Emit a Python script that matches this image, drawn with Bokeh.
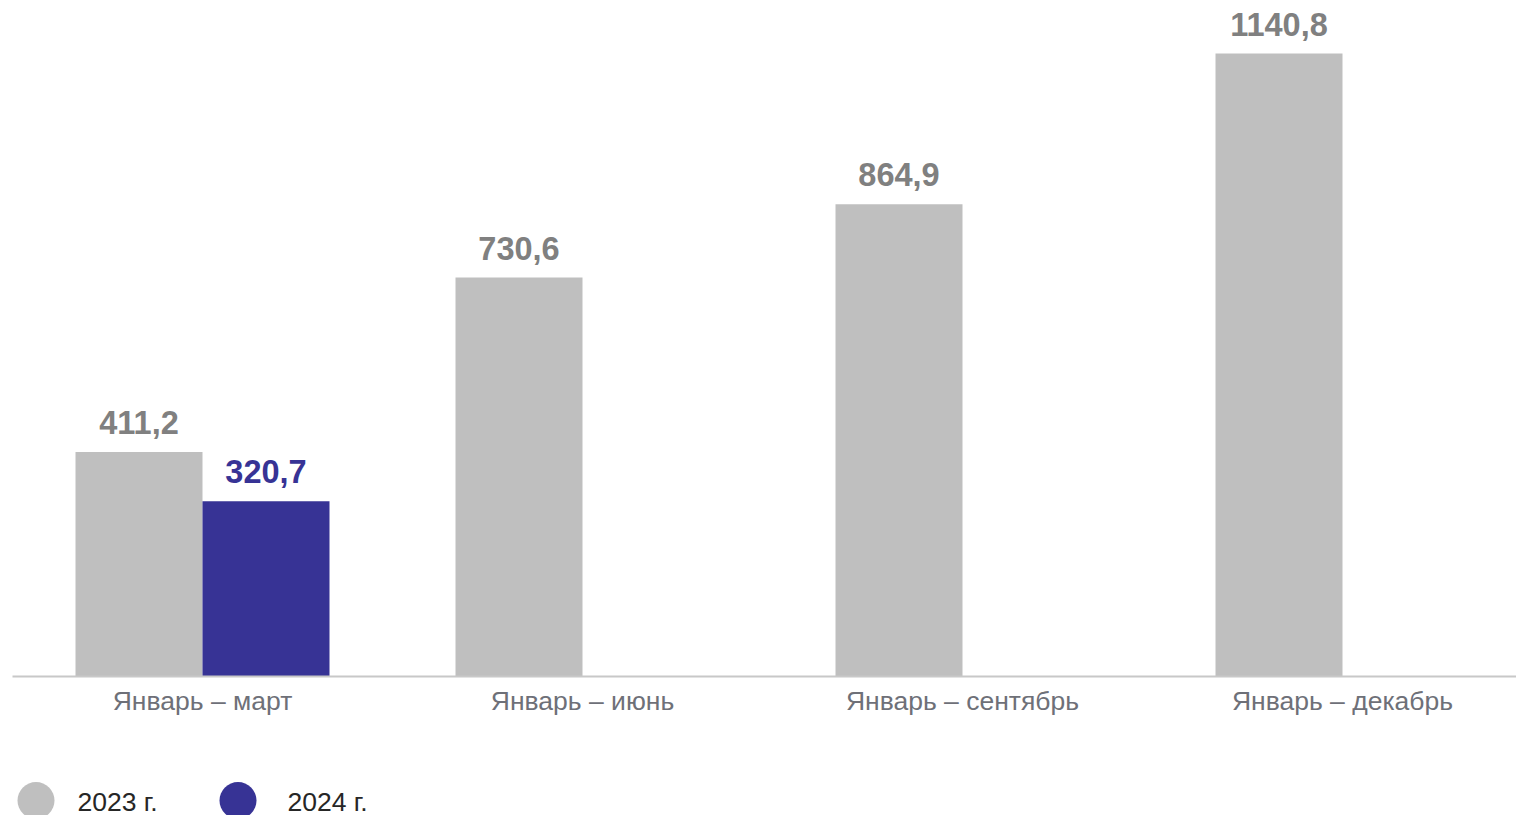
from bokeh.plotting import figure
from bokeh.models import ColumnDataSource, Range1d, FixedTicker, LabelSet
from bokeh.layouts import column
from bokeh.embed import file_html
from bokeh.resources import INLINE
from bokeh.core.properties import value

categories = ["Январь – март", "Январь – июнь", "Январь – сентябрь", "Январь – декабрь"]
series_names = ["2023 г.", "2024 г."]
values_2023 = [411.2, 730.6, 864.9, 1140.8]
values_2024 = [320.7, None, None, None]
colors = ["#bfbfbf", "#373395"]
label_colors = ["#808080", "#373395"]

FONT = "Liberation Sans"
W = 1516
px_per_unit = 380.0
bar_w = 127.0 / px_per_unit
frame_left = 12
frame_top = 8
y_scale = 623.0 / 1140.8
frame_h = 668
MAIN_H = frame_top + frame_h + 72

p = figure(width=W, height=MAIN_H, output_backend="svg", toolbar_location=None,
           x_range=Range1d(-0.5, -0.5 + (W - frame_left) / px_per_unit),
           y_range=Range1d(0, frame_h / y_scale), y_axis_location=None,
           min_border_left=frame_left, min_border_right=0, min_border_top=frame_top,
           min_border_bottom=72)
p.outline_line_color = None
p.grid.visible = False
p.background_fill_color = "white"
p.border_fill_color = "white"

for k, vals in enumerate([values_2023, values_2024]):
    offset = (-0.5 if k == 0 else 0.5) * bar_w
    xs, ys, labels = [], [], []
    for i, v in enumerate(vals):
        if v is None:
            continue
        xs.append(i + offset)
        ys.append(v)
        labels.append(f"{v:.1f}".replace(".", ","))
    src = ColumnDataSource(dict(x=xs, top=ys, label=labels))
    p.vbar(x="x", top="top", bottom=0, width=bar_w, source=src,
           fill_color=colors[k], line_color=None)
    p.add_layout(LabelSet(x="x", y="top", text="label", source=src,
                          text_align="center", text_baseline="alphabetic",
                          y_offset=18, text_font=value(FONT), text_font_style="bold",
                          text_font_size="32.5px", text_color=label_colors[k]))

ax = p.xaxis[0]
ax.ticker = FixedTicker(ticks=list(range(len(categories))))
ax.major_label_overrides = {i: c for i, c in enumerate(categories)}
ax.major_tick_line_color = None
ax.minor_tick_line_color = None
ax.axis_line_color = "#c8c8c8"
ax.axis_line_width = 2
ax.major_label_standoff = 3
ax.major_label_text_font = FONT
ax.major_label_text_font_size = "26.5px"
ax.major_label_text_color = "#6e7078"

# legend strip below (coordinates in page pixels)
LH = 815 - MAIN_H
lg = figure(width=W, height=LH, output_backend="svg", toolbar_location=None,
            x_range=Range1d(frame_left, W), y_range=Range1d(815, MAIN_H),
            x_axis_location=None, y_axis_location=None,
            min_border_left=frame_left, min_border_right=0,
            min_border_top=0, min_border_bottom=0)
lg.outline_line_color = None
lg.grid.visible = False
leg_src = ColumnDataSource(dict(cx=[35.5, 237.5], cy=[800, 800], tx=[77, 287], ty=[801, 801],
                                name=series_names, color=colors))
lg.scatter(x="cx", y="cy", size=37, marker="circle", fill_color="color",
           line_color=None, source=leg_src)
lg.text(x="tx", y="ty", text="name", source=leg_src, text_font=value(FONT),
        text_font_size="26.5px", text_color="#262626", text_baseline="middle")

layout = column(p, lg, spacing=0)
open("out.html", "w").write(file_html(layout, INLINE))
